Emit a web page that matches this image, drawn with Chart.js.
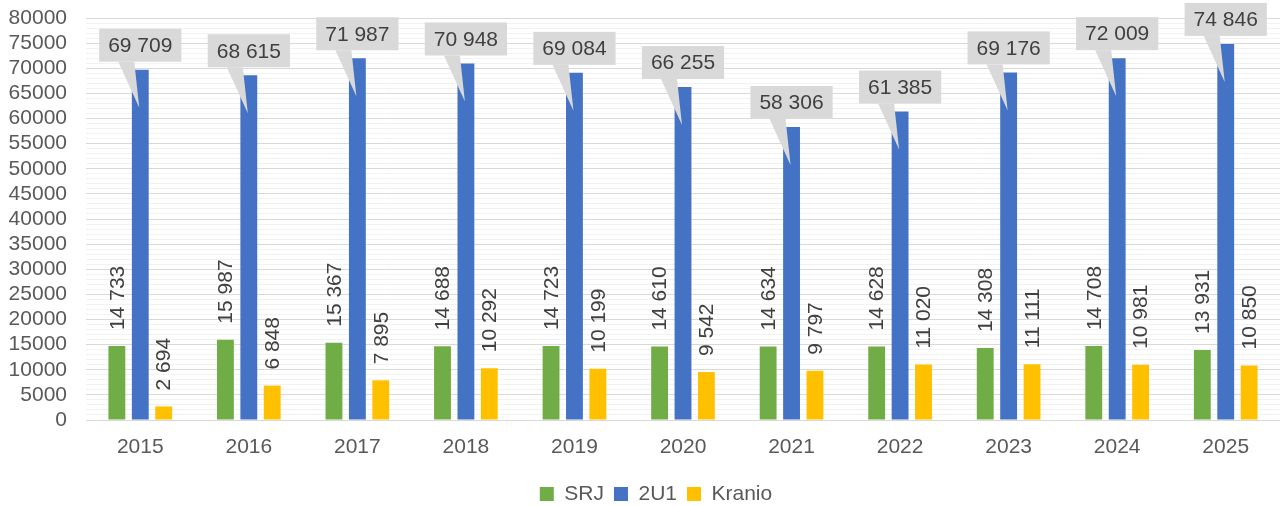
<!DOCTYPE html>
<html>
<head>
<meta charset="utf-8">
<script src="https://cdn.jsdelivr.net/npm/chart.js@4/dist/chart.umd.min.js"></script>
<style>
  html, body { margin: 0; padding: 0; background: #fff; overflow: hidden; }
  #wrap { width: 1280px; height: 506px; }
</style>
</head>
<body>
<div id="wrap"><canvas id="chart"></canvas></div>
<script>
const years = ["2015", "2016", "2017", "2018", "2019", "2020", "2021", "2022", "2023", "2024", "2025"];
const srj = [14733, 15987, 15367, 14688, 14723, 14610, 14634, 14628, 14308, 14708, 13931];
const u21 = [69709, 68615, 71987, 70948, 69084, 66255, 58306, 61385, 69176, 72009, 74846];
const kranio = [2694, 6848, 7895, 10292, 10199, 9542, 9797, 11020, 11111, 10981, 10850];

const FONT = "'Liberation Sans', Arial, sans-serif";

function fmt(v) {
  return String(v).replace(/\B(?=(\d{3})+(?!\d))/g, " ");
}

// value labels: rotated for SRJ / Kranio, grey callouts for 2U1
const labelPlugin = {
  id: "labels",
  afterLayout(chart) {
    // Excel centres the legend a little right of the middle
    chart.legend.left += 14;
    chart.legend.right += 14;
  },
  afterDatasetsDraw(chart) {
    const ctx = chart.ctx;
    ctx.save();
    ctx.font = "21px " + FONT;
    ctx.fillStyle = "#404040";

    [0, 2].forEach((di) => {
      const meta = chart.getDatasetMeta(di);
      const values = chart.data.datasets[di].data;
      meta.data.forEach((bar, i) => {
        ctx.save();
        ctx.translate(bar.x + 1, bar.y - 16);
        ctx.rotate(-Math.PI / 2);
        ctx.textAlign = "left";
        ctx.textBaseline = "middle";
        ctx.fillText(fmt(values[i]), 0, 0);
        ctx.restore();
      });
    });

    const meta = chart.getDatasetMeta(1);
    const values = chart.data.datasets[1].data;
    meta.data.forEach((bar, i) => {
      const text = fmt(values[i]);
      const w = ctx.measureText(text).width + 18;
      const h = 33;
      const cx = bar.x;
      const bottom = bar.y - 8;
      ctx.fillStyle = "#d9d9d9";
      ctx.fillRect(cx - w / 2, bottom - h, w, h);
      ctx.beginPath();
      ctx.moveTo(cx - 22, bottom);
      ctx.lineTo(cx - 6, bottom);
      ctx.lineTo(cx - 1, bar.y + 38);
      ctx.closePath();
      ctx.fill();
      ctx.fillStyle = "#404040";
      ctx.textAlign = "center";
      ctx.textBaseline = "middle";
      ctx.fillText(text, cx, bottom - h / 2 + 1);
    });
    ctx.restore();
  },
};

new Chart(document.getElementById("chart"), {
  type: "bar",
  data: {
    labels: years,
    datasets: [
      { label: "SRJ", data: srj, backgroundColor: "#70ad47" },
      { label: "2U1", data: u21, backgroundColor: "#4472c4" },
      { label: "Kranio", data: kranio, backgroundColor: "#ffc000" },
    ],
  },
  options: {
    responsive: true,
    maintainAspectRatio: false,
    animation: false,
    categoryPercentage: 0.647,
    barPercentage: 0.72,
    layout: { padding: { top: 18, right: -4, bottom: -8.5, left: 0 } },
    scales: {
      x: {
        grid: { display: false },
        border: { display: false },
        ticks: { color: "#595959", font: { family: FONT, size: 21 }, padding: 7 },
        afterFit: (s) => {
          s.height = 53.5;
          s.paddingLeft = 0;
          s.paddingRight = 0;
        },
      },
      y: {
        min: 0,
        max: 80000,
        border: { display: false },
        grid: {
          drawTicks: false,
          color: (c) => (c.tick && c.tick.value % 5000 === 0 ? "#d9d9d9" : "#f2f2f2"),
        },
        ticks: {
          stepSize: 1000,
          autoSkip: false,
          padding: 19,
          color: "#595959",
          font: { family: FONT, size: 21 },
          callback: (v) => (v % 5000 === 0 ? String(v) : ""),
        },
        afterFit: (s) => {
          s.width = 86;
          s.paddingTop = 0;
          s.paddingBottom = 0;
        },
      },
    },
    plugins: {
      legend: {
        position: "bottom",
        labels: {
          color: "#595959",
          font: { family: FONT, size: 21 },
          boxWidth: 14,
          boxHeight: 14,
          padding: 10,
        },
      },
      tooltip: { enabled: false },
    },
  },
  plugins: [labelPlugin],
});
</script>
</body>
</html>
